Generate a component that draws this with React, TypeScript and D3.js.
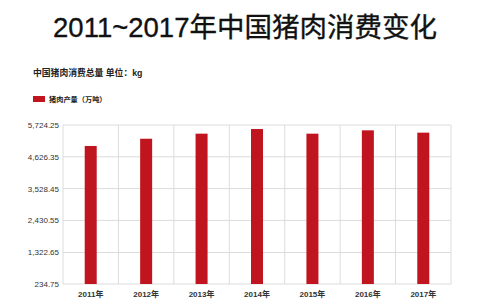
import React from "react";
import * as d3 from "d3";

const years = ["2011年", "2012年", "2013年", "2014年", "2015年", "2016年", "2017年"];
const values = [5000, 5250, 5425, 5585, 5425, 5540, 5460];
const yTicks = [234.75, 1322.65, 2430.55, 3528.45, 4626.35, 5724.25];

const W = 480, H = 300;
const m = { left: 63, right: 29, top: 125, bottom: 16 };

export default function App() {
  const x = d3.scaleBand<string>().domain(years).range([m.left, W - m.right]).padding(0);
  const y = d3.scaleLinear().domain([234.75, 5724.25]).range([H - m.bottom, m.top]);
  const fmt = d3.format(",.2f");
  const barW = 12;
  const font = "'Liberation Sans', 'Noto Sans CJK SC', sans-serif";
  return (
    <svg width={W} height={H} style={{ position: "absolute", left: 0, top: 0, background: "#fff" }} fontFamily={font}>
      <text x={W / 2 + 5} y={37} textAnchor="middle" fontSize={27.5} fill="#111" stroke="#111" strokeWidth={0.35}>
        2011~2017年中国猪肉消费变化
      </text>
      <text x={33} y={76} fontSize={8.8} fontWeight={700} fill="#222">中国猪肉消费总量 单位：kg</text>
      <rect x={33} y={96} width={12} height={6} fill="#c0141e" />
      <text x={49} y={102} fontSize={7.2} fontWeight={700} fill="#222">猪肉产量（万吨）</text>
      {yTicks.map((t) => (
        <g key={t}>
          <line x1={m.left} x2={W - m.right} y1={y(t)} y2={y(t)} stroke="#dcdcdc" strokeWidth={1} />
          <text x={m.left - 4} y={y(t) + 3} textAnchor="end" fontSize={8} fill="#333">{fmt(t)}</text>
        </g>
      ))}
      {years.map((yr) => (
        <line key={"v" + yr} x1={x(yr)!} x2={x(yr)!} y1={m.top} y2={H - m.bottom} stroke="#dcdcdc" />
      ))}
      <line x1={W - m.right} x2={W - m.right} y1={m.top} y2={H - m.bottom} stroke="#dcdcdc" />
      {years.map((yr, i) => (
        <g key={yr}>
          <rect x={x(yr)! + x.bandwidth() / 2 - barW / 2} y={y(values[i])} width={barW} height={y(234.75) - y(values[i])} fill="#c0141e" />
          <text x={x(yr)! + x.bandwidth() / 2} y={H - 3} textAnchor="middle" fontSize={8} fontWeight={700} fill="#333">{yr}</text>
        </g>
      ))}
    </svg>
  );
}
